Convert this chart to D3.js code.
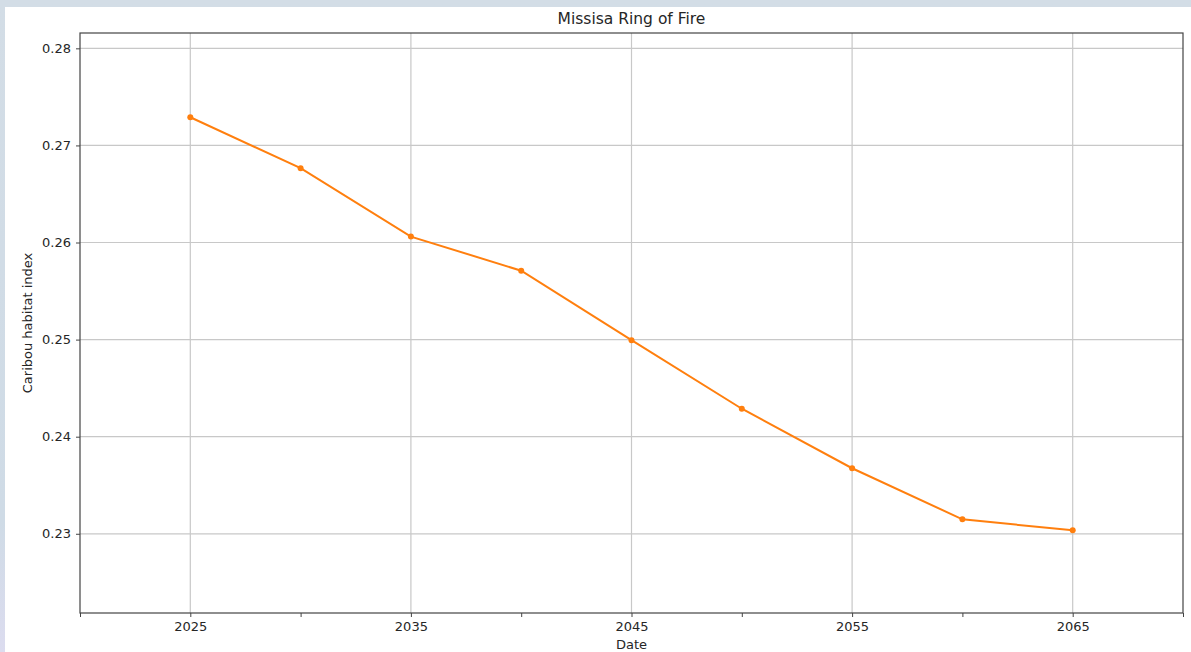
<!DOCTYPE html>
<html>
<head>
<meta charset="utf-8">
<script src="https://cdn.jsdelivr.net/npm/d3@7"></script>
<style>
  html, body { margin: 0; padding: 0; background: #ffffff; }
  svg { display: block; }
  text { font-family: "DejaVu Sans", sans-serif; fill: #262626; }
</style>
</head>
<body>
<svg id="chart" width="1191" height="652"></svg>
<script>
// Habitat index by year
const years = [2025, 2030, 2035, 2040, 2045, 2050, 2055, 2060, 2065];
const habitatIndex = [0.2729, 0.26766, 0.26061, 0.2571, 0.24994, 0.24288, 0.23675, 0.23149, 0.23036];
const xTicks = [2020, 2025, 2030, 2035, 2040, 2045, 2050, 2055, 2060, 2065, 2070];
const xTickLabels = ["", "2025", "", "2035", "", "2045", "", "2055", "", "2065", ""];
const yTicks = [0.23, 0.24, 0.25, 0.26, 0.27, 0.28];

const svg = d3.select("#chart");
const W = 1191, H = 652;

// frame around the figure panel
const defs = svg.append("defs");
const grad = defs.append("linearGradient").attr("id", "edge").attr("x1", 0).attr("y1", 0).attr("x2", 0).attr("y2", 1);
grad.append("stop").attr("offset", "0%").attr("stop-color", "#d3dde6");
grad.append("stop").attr("offset", "80%").attr("stop-color", "#cfdbe6");
grad.append("stop").attr("offset", "100%").attr("stop-color", "#dcdcef");
svg.append("rect").attr("x", 0).attr("y", 0).attr("width", W).attr("height", H).attr("fill", "url(#edge)");
svg.append("rect").attr("x", 5).attr("y", 7).attr("width", W - 5).attr("height", H - 7).attr("fill", "#ffffff");

const m = { left: 80, right: 1183, top: 33, bottom: 613 };
const x = d3.scaleLinear().domain([2020, 2070]).range([m.left, m.right]);
const y = d3.scaleLinear().domain([0.22184, 0.28158]).range([m.bottom, m.top]);

// grid
const grid = svg.append("g");
grid.selectAll(".gx").data(years.filter(v => v % 10 === 5)).enter().append("line")
  .attr("x1", d => x(d)).attr("x2", d => x(d)).attr("y1", m.top).attr("y2", m.bottom)
  .attr("stroke", "#c8c8c8").attr("stroke-width", 1.2);
grid.selectAll(".gy").data(yTicks).enter().append("line")
  .attr("y1", d => y(d)).attr("y2", d => y(d)).attr("x1", m.left).attr("x2", m.right)
  .attr("stroke", "#c8c8c8").attr("stroke-width", 1.2);

// axes
const xAxis = d3.axisBottom(x).tickValues(xTicks)
  .tickFormat((d, i) => xTickLabels[i]).tickSize(4).tickPadding(5);
const yAxis = d3.axisLeft(y).tickValues(yTicks)
  .tickFormat(d3.format(".2f")).tickSize(4).tickPadding(5);

const gx = svg.append("g").attr("transform", `translate(0,${m.bottom})`).call(xAxis);
const gy = svg.append("g").attr("transform", `translate(${m.left},0)`).call(yAxis);
[gx, gy].forEach(g => {
  g.select(".domain").remove();
  g.selectAll(".tick line").attr("stroke", "#444").attr("stroke-width", 1);
  g.selectAll(".tick text").attr("font-size", 13).attr("fill", "#262626")
    .style("font-family", "'DejaVu Sans', sans-serif");
});

// spines
svg.append("rect").attr("x", m.left).attr("y", m.top)
  .attr("width", m.right - m.left).attr("height", m.bottom - m.top)
  .attr("fill", "none").attr("stroke", "#444").attr("stroke-width", 1.2);

// series
const pts = years.map((yr, i) => [yr, habitatIndex[i]]);
svg.append("path").datum(pts)
  .attr("fill", "none").attr("stroke", "#ff7f0e").attr("stroke-width", 2)
  .attr("d", d3.line().x(d => x(d[0])).y(d => y(d[1])));
svg.selectAll(".pt").data(pts).enter().append("circle")
  .attr("cx", d => x(d[0])).attr("cy", d => y(d[1])).attr("r", 3)
  .attr("fill", "#ff7f0e");

// labels
svg.append("text").attr("x", (m.left + m.right) / 2).attr("y", 24)
  .attr("text-anchor", "middle").attr("font-size", 15.5).text("Missisa Ring of Fire");
svg.append("text").attr("x", (m.left + m.right) / 2).attr("y", 649)
  .attr("text-anchor", "middle").attr("font-size", 13).text("Date");
svg.append("text").attr("transform", `translate(32,${(m.top + m.bottom) / 2}) rotate(-90)`)
  .attr("text-anchor", "middle").attr("font-size", 13).text("Caribou habitat index");
</script>
</body>
</html>
